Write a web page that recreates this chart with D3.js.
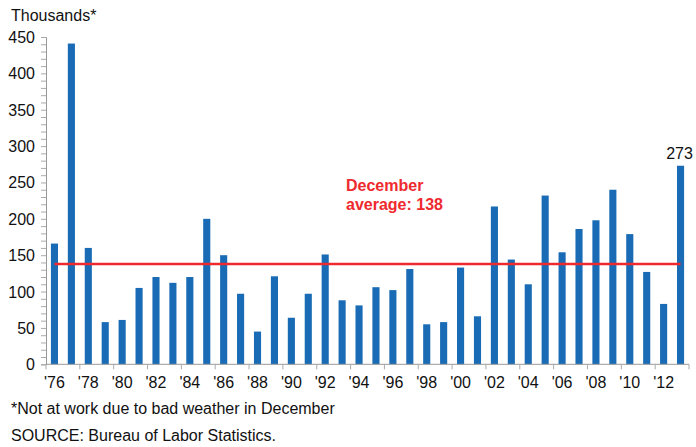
<!DOCTYPE html>
<html>
<head>
<meta charset="utf-8">
<script src="https://cdn.jsdelivr.net/npm/d3@7"></script>
<style>
  body { margin: 0; background: #fff; }
  svg { font-family: "Liberation Sans", Arial, sans-serif; }
</style>
</head>
<body>
<div id="chart"></div>
<script>

// Data: people not at work due to bad weather in December (thousands)
const years = d3.range(1976, 2014);
const values = [166, 441, 160, 58, 61, 105, 120, 112, 120, 200,
                150, 97, 45, 121, 64, 97, 151, 88, 81, 106,
                102, 131, 55, 58, 133, 66, 217, 144, 110, 232,
                154, 186, 198, 240, 179, 127, 83, 273];
const average = 138;
const yTicks = [0, 50, 100, 150, 200, 250, 300, 350, 400, 450];
const xLabelYears = d3.range(1976, 2013, 2);

const width = 696, height = 447;
const margin = {top: 37, right: 7, bottom: 83, left: 46};

const svg = d3.select("#chart").append("svg")
	.attr("width", width)
	.attr("height", height);

// scales
const x = d3.scaleBand()
	.domain(years)
	.range([margin.left, width - margin.right])
	.paddingInner(0.58)
	.paddingOuter(0.29);

const y = d3.scaleLinear()
	.domain([0, 450])
	.range([height - margin.bottom + 0.3, margin.top]);

// y axis with minor ticks every 10
const yAxis = svg.append("g")
	.attr("transform", "translate(" + margin.left + ",0)")
	.call(d3.axisLeft(y).tickValues(d3.range(0, 451, 10)).tickSize(5).tickFormat(""));
yAxis.select(".domain").attr("stroke", "#999");
yAxis.selectAll(".tick line").attr("stroke", "#aaa");

svg.append("g")
	.selectAll("text")
	.data(yTicks)
	.join("text")
	.attr("x", 35)
	.attr("y", d => y(d) + 6)
	.attr("text-anchor", "end")
	.attr("font-size", 16)
	.attr("fill", "#111")
	.text(d => d);

// bars
svg.append("g")
	.selectAll("rect")
	.data(values)
	.join("rect")
	.attr("x", (d, i) => x(years[i]))
	.attr("y", d => y(d))
	.attr("width", x.bandwidth())
	.attr("height", d => y(0) - y(d))
	.attr("fill", "#186bb4");

// x axis: ticks every two years at band boundaries
const step = x.step();
const xAxisG = svg.append("g");
xAxisG.append("line")
	.attr("x1", margin.left).attr("x2", width - margin.right)
	.attr("y1", y(0)).attr("y2", y(0))
	.attr("stroke", "#999");
xAxisG.selectAll("line.tick")
	.data(d3.range(1976, 2015, 2))
	.join("line")
	.attr("class", "tick")
	.attr("x1", d => x.range()[0] + (d - 1976) * step)
	.attr("x2", d => x.range()[0] + (d - 1976) * step)
	.attr("y1", y(0)).attr("y2", y(0) + 5)
	.attr("stroke", "#aaa");

xAxisG.selectAll("text")
	.data(xLabelYears)
	.join("text")
	.attr("x", d => x(d) + x.bandwidth() / 2)
	.attr("y", y(0) + 24)
	.attr("text-anchor", "middle")
	.attr("font-size", 16)
	.attr("fill", "#111")
	.text(d => "'" + String(d).slice(2));

// average line
svg.append("line")
	.attr("x1", x(years[0]) + x.bandwidth() / 2)
	.attr("x2", x(years[years.length - 1]) + x.bandwidth() / 2)
	.attr("y1", y(average)).attr("y2", y(average))
	.attr("stroke", "#ee2a2e")
	.attr("stroke-width", 2.5);

svg.append("text")
	.attr("x", 346).attr("y", 191)
	.attr("font-size", 16).attr("font-weight", "bold")
	.attr("fill", "#ee2a2e")
	.text("December");
svg.append("text")
	.attr("x", 346).attr("y", 210)
	.attr("font-size", 16).attr("font-weight", "bold")
	.attr("fill", "#ee2a2e")
	.text("average: " + average);

// last value label
const lastI = values.length - 1;
svg.append("text")
	.attr("x", x(years[lastI]) + x.bandwidth() / 2 - 1)
	.attr("y", y(values[lastI]) - 7)
	.attr("text-anchor", "middle")
	.attr("font-size", 16)
	.attr("fill", "#111")
	.text(values[lastI]);

// unit label and notes
svg.append("text")
	.attr("x", 11).attr("y", 21)
	.attr("font-size", 16).attr("fill", "#111")
	.text("Thousands*");

svg.append("text")
	.attr("x", 11).attr("y", 414)
	.attr("font-size", 16).attr("fill", "#111")
	.text("*Not at work due to bad weather in December");

svg.append("text")
	.attr("x", 11).attr("y", 441)
	.attr("font-size", 16).attr("fill", "#111")
	.text("SOURCE: Bureau of Labor Statistics.");

</script>
</body>
</html>
